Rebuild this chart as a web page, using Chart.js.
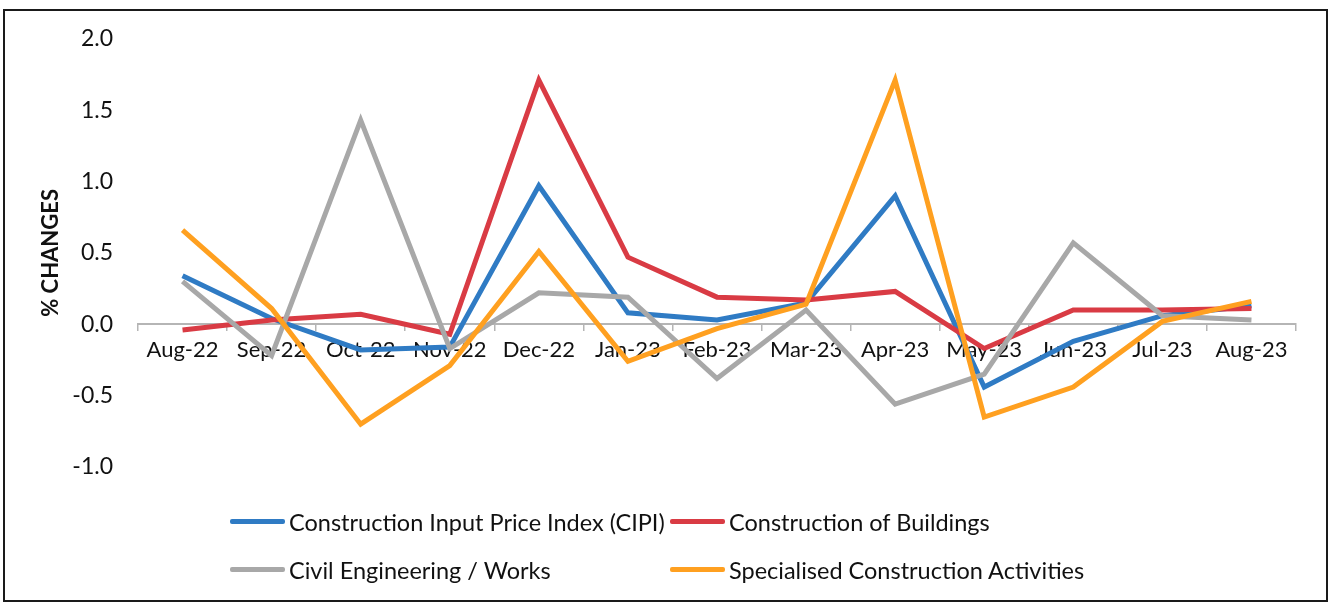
<!DOCTYPE html>
<html>
<head>
<meta charset="utf-8">
<script src="https://cdn.jsdelivr.net/npm/chart.js@4.4.1/dist/chart.umd.min.js"></script>
<style>
  html, body { margin: 0; padding: 0; background: #ffffff; }
  #wrap { position: relative; width: 1328px; height: 603px; overflow: hidden; background: #fff; }
  #frame { position: absolute; left: 3px; top: 9px; width: 1321px; height: 589px; border: 2px solid #1a1a1a; box-sizing: content-box; pointer-events: none; }
  canvas { position: absolute; left: 0; top: 0; }
  .leg { position: absolute; font-family: Lato, "Open Sans", sans-serif; font-size: 23.5px; color: #111; white-space: nowrap; line-height: 28px; }
  .leg .sw { position: absolute; top: 11px; width: 55px; height: 5px; border-radius: 2px; }
</style>
</head>
<body>
<div id="wrap">
  <canvas id="c" width="1328" height="603"></canvas>
  <div id="frame"></div>
  <div id="legend"></div>
</div>
<script>
const categories = ["Aug-22","Sep-22","Oct-22","Nov-22","Dec-22","Jan-23","Feb-23","Mar-23","Apr-23","May-23","Jun-23","Jul-23","Aug-23"];
const seriesNames = ["Construction Input Price Index (CIPI)","Construction of Buildings","Civil Engineering / Works","Specialised Construction Activities"];
const cipi        = [0.34, 0.04, -0.18, -0.16, 0.97, 0.08, 0.03, 0.15, 0.90, -0.44, -0.12, 0.06, 0.13];
const buildings   = [-0.04, 0.03, 0.07, -0.07, 1.71, 0.47, 0.19, 0.17, 0.23, -0.17, 0.10, 0.10, 0.11];
const civil       = [0.30, -0.22, 1.43, -0.17, 0.22, 0.19, -0.38, 0.10, -0.56, -0.35, 0.57, 0.06, 0.03];
const specialised = [0.66, 0.11, -0.70, -0.29, 0.51, -0.26, -0.03, 0.14, 1.71, -0.65, -0.44, 0.02, 0.16];
const yTicks = [-1.0, -0.5, 0.0, 0.5, 1.0, 1.5, 2.0];

const colors = ["#2f7bc4", "#d93b44", "#a8a8a8", "#ffa020"];
const seriesData = [cipi, buildings, civil, specialised];
const drawOrder = [4, 3, 2, 1];

const FONT = "Lato, 'Open Sans', sans-serif";

new Chart(document.getElementById('c'), {
  type: 'line',
  data: {
    labels: categories,
    datasets: seriesNames.map((n, i) => ({
      label: n,
      data: seriesData[i],
      borderColor: colors[i],
      backgroundColor: colors[i],
      borderWidth: 5,
      pointRadius: 0,
      tension: 0,
      order: drawOrder[i],
      borderJoinStyle: 'miter',
      borderCapStyle: 'butt'
    }))
  },
  options: {
    responsive: false,
    animation: false,
    layout: { padding: { left: 10, top: 35, right: 32, bottom: 136 } },
    plugins: { legend: { display: false }, tooltip: { enabled: false } },
    scales: {
      x: {
        type: 'category',
        offset: true,
        position: { y: 0 },
        grid: { display: true, drawOnChartArea: false, drawTicks: true, tickLength: 6, offset: true, color: '#b5b5b5', lineWidth: 1.5 },
        border: { display: true, color: '#b5b5b5', width: 2 },
        ticks: { color: '#111', font: { family: FONT, size: 22 }, padding: 6, maxRotation: 0, autoSkip: false }
      },
      y: {
        min: yTicks[0],
        max: yTicks[yTicks.length - 1],
        afterBuildTicks: (scale) => { scale.ticks = yTicks.map(v => ({ value: v })); },
        afterFit: (scale) => { scale.width = 128; },
        grid: { display: false, drawTicks: false },
        border: { display: false },
        ticks: { color: '#111', font: { family: FONT, size: 23 }, padding: 25, callback: (v) => Number(v).toFixed(1) },
        title: { display: true, text: '% CHANGES', color: '#111', font: { family: FONT, size: 22, weight: 'bold' }, padding: { top: 28, bottom: 0 } }
      }
    }
  }
});

// HTML legend built from the series names
const legendPos = [[230, 508], [670, 508], [230, 556], [670, 556]];
const leg = document.getElementById('legend');
seriesNames.forEach((n, i) => {
  const d = document.createElement('div');
  d.className = 'leg';
  d.style.left = legendPos[i][0] + 'px';
  d.style.top = legendPos[i][1] + 'px';
  d.style.paddingLeft = '59px';
  const sw = document.createElement('span');
  sw.className = 'sw';
  sw.style.left = '0px';
  sw.style.background = colors[i];
  d.appendChild(sw);
  d.appendChild(document.createTextNode(n));
  leg.appendChild(d);
});
</script>
</body>
</html>
